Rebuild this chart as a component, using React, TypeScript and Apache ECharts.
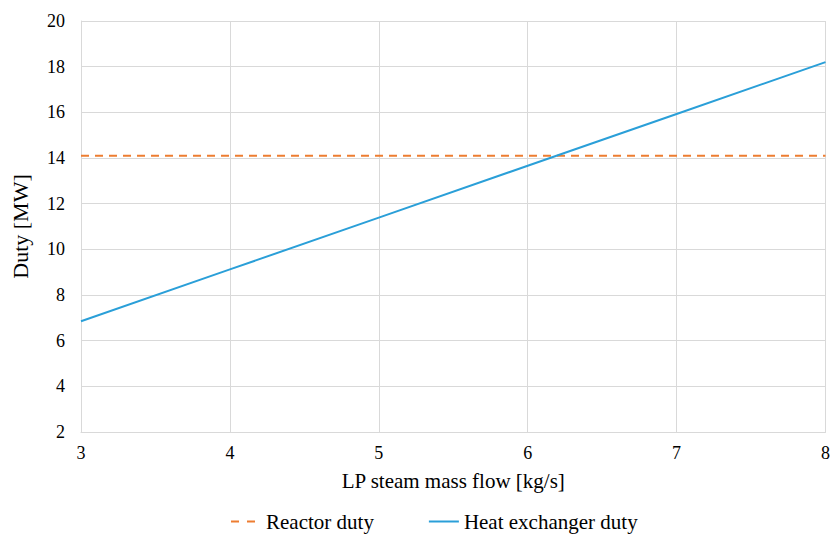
import React, { useEffect, useRef } from "react";
import * as echarts from "echarts";

const xValues = [3, 4, 5, 6, 7, 8];
const reactorDuty = [14.1, 14.1, 14.1, 14.1, 14.1, 14.1];
const heatExchangerDuty = [6.85, 9.12, 11.39, 13.66, 15.93, 18.2];
const seriesNames = ["Reactor duty", "Heat exchanger duty"];

const FONT = "Liberation Serif";
const ORANGE = "#ED7D31";
const BLUE = "#2A9FD8";

export default function App() {
  const ref = useRef<HTMLDivElement>(null);
  useEffect(() => {
    if (!ref.current) return;
    const chart = echarts.init(ref.current, undefined, { renderer: "svg" });
    chart.setOption({
      animation: false,
      textStyle: { fontFamily: FONT, color: "#000" },
      grid: { left: 81, right: 5, top: 21, bottom: 106, containLabel: false },
      legend: {
        top: 506,
        left: 226,
        itemGap: 55,
        itemWidth: 30,
        itemHeight: 2,
        textStyle: { fontFamily: FONT, fontSize: 21, color: "#000" },
        data: [
          {
            name: seriesNames[0],
            icon: "path://M0,0H8V2H0Z M16,0H24V2H16Z M29.95,0H30V0.02H29.95Z",
            itemStyle: { color: ORANGE },
          },
          { name: seriesNames[1], icon: "path://M0,0H30V2H0Z", itemStyle: { color: BLUE } },
        ],
      },
      xAxis: {
        type: "value",
        min: 3,
        max: 8,
        interval: 1,
        name: "LP steam mass flow [kg/s]",
        nameLocation: "middle",
        nameGap: 38,
        nameTextStyle: { fontFamily: FONT, fontSize: 21, color: "#000" },
        axisLine: { show: true, lineStyle: { color: "#d9d9d9", width: 1 } },
        axisTick: { show: false },
        axisLabel: { fontFamily: FONT, fontSize: 18, color: "#000", margin: 12 },
        splitLine: { show: true, lineStyle: { color: "#d9d9d9", width: 1 } },
      },
      yAxis: {
        type: "value",
        min: 2,
        max: 20,
        interval: 2,
        name: "Duty [MW]",
        nameLocation: "middle",
        nameGap: 50,
        nameTextStyle: { fontFamily: FONT, fontSize: 22, color: "#000" },
        axisLine: { show: true, lineStyle: { color: "#d9d9d9", width: 1 } },
        axisTick: { show: false },
        axisLabel: { fontFamily: FONT, fontSize: 18, color: "#000", margin: 16 },
        splitLine: { show: true, lineStyle: { color: "#d9d9d9", width: 1 } },
      },
      series: [
        {
          name: seriesNames[0],
          type: "line",
          showSymbol: false,
          symbol: "none",
          data: xValues.map((x, i) => [x, reactorDuty[i]]),
          lineStyle: { color: ORANGE, width: 2, type: [8, 6] },
          itemStyle: { color: ORANGE },
        },
        {
          name: seriesNames[1],
          type: "line",
          showSymbol: false,
          symbol: "none",
          data: xValues.map((x, i) => [x, heatExchangerDuty[i]]),
          lineStyle: { color: BLUE, width: 2 },
          itemStyle: { color: BLUE },
        },
      ],
    });
    return () => chart.dispose();
  }, []);
  return <div ref={ref} style={{ width: 833, height: 538, position: "absolute", left: 0, top: 0 }} />;
}
